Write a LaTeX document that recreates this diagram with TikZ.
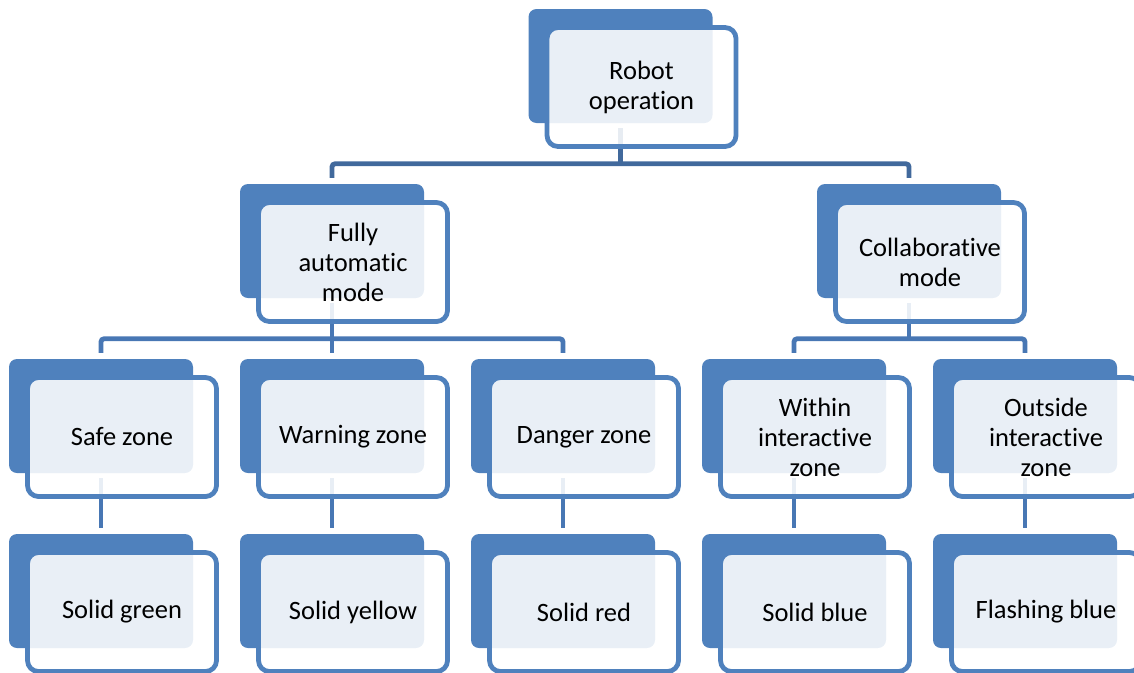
\documentclass[tikz,border=0pt]{standalone}
\usepackage{fontspec}
\setmainfont{Carlito}[Ligatures=NoCommon]
\usetikzlibrary{calc}
\definecolor{accent}{HTML}{4F81BD}
\definecolor{linkdark}{HTML}{41699C}
\definecolor{linkmid}{HTML}{4877B4}
\tikzset{
  backbox/.style={fill=accent, draw=none, rounded corners=8pt, inner sep=0pt,
    minimum width=184pt, minimum height=114pt},
  frontbox/.style={draw=accent, line width=4.8pt, fill=white, fill opacity=0.88,
    text opacity=1, rounded corners=11pt, inner sep=0pt,
    minimum width=189pt, minimum height=119pt, align=center,
    font=\fontsize{26.5}{30}\selectfont},
  link/.style={draw=linkmid, line width=4.8pt, rounded corners=3pt},
  toplink/.style={link, draw=linkdark},
}
% a card: filled back plate plus the anchor point of its front panel
\newcommand{\card}[3]{% name, left, top
  \node[backbox] (#1B) at (#2+92, #3+57) {};
  \path (#2+113, #3+78) coordinate (#1C);
}
\begin{document}
\begin{tikzpicture}[x=1pt, y=-1pt]
  \useasboundingbox (0,0) rectangle (1134,672);
  \clip (0,0) rectangle (1134,672);

  % back plates
  \card{root}{528.5}{9}
  \card{fa}{240}{184}
  \card{co}{817}{184}
  \card{safe}{9}{359}
  \card{warn}{240}{359}
  \card{danger}{471}{359}
  \card{within}{702}{359}
  \card{outside}{933}{359}
  \card{green}{9}{534}
  \card{yellow}{240}{534}
  \card{red}{471}{534}
  \card{blue}{702}{534}
  \card{flash}{933}{534}

  % connectors
  \draw[toplink] ($(rootB.south)+(0,5)$) -- ($(rootB.south |- faB.north)+(0,-20)$);
  \draw[toplink] ($(faB.north)+(0,-6)$) |- ($(coB.north)+(0,-20)$) -- ($(coB.north)+(0,-6)$);

  \draw[link] ($(faB.south)+(0,5)$) -- ($(faB.south |- safeB.north)+(0,-20)$);
  \draw[link] ($(safeB.north)+(0,-6)$) |- ($(dangerB.north)+(0,-20)$) -- ($(dangerB.north)+(0,-6)$);
  \draw[link] ($(warnB.north)+(0,-20)$) -- ($(warnB.north)+(0,-6)$);

  \draw[link] ($(coB.south)+(0,5)$) -- ($(coB.south |- withinB.north)+(0,-20)$);
  \draw[link] ($(withinB.north)+(0,-6)$) |- ($(outsideB.north)+(0,-20)$) -- ($(outsideB.north)+(0,-6)$);

  \draw[link] ($(safeB.south)+(0,5)$) -- ($(greenB.north)+(0,-6)$);
  \draw[link] ($(warnB.south)+(0,5)$) -- ($(yellowB.north)+(0,-6)$);
  \draw[link] ($(dangerB.south)+(0,5)$) -- ($(redB.north)+(0,-6)$);
  \draw[link] ($(withinB.south)+(0,5)$) -- ($(blueB.north)+(0,-6)$);
  \draw[link] ($(outsideB.south)+(0,5)$) -- ($(flashB.north)+(0,-6)$);

  % front panels with labels
  \node[frontbox] (root) at (rootC) {Robot\\operation};
  \node[frontbox] (fa) at (faC) {Fully\\automatic\\mode};
  \node[frontbox] (co) at (coC) {Collaborative\\mode};
  \node[frontbox] (safe) at (safeC) {Safe zone};
  \node[frontbox] (warn) at (warnC) {Warning zone};
  \node[frontbox] (danger) at (dangerC) {Danger zone};
  \node[frontbox] (within) at (withinC) {Within\\interactive\\zone};
  \node[frontbox] (outside) at (outsideC) {Outside\\interactive\\zone};
  \node[frontbox] (green) at (greenC) {Solid green};
  \node[frontbox] (yellow) at (yellowC) {Solid yellow};
  \node[frontbox] (red) at (redC) {Solid red};
  \node[frontbox] (blue) at (blueC) {Solid blue};
  \node[frontbox] (flash) at (flashC) {Flashing blue};
\end{tikzpicture}
\end{document}
